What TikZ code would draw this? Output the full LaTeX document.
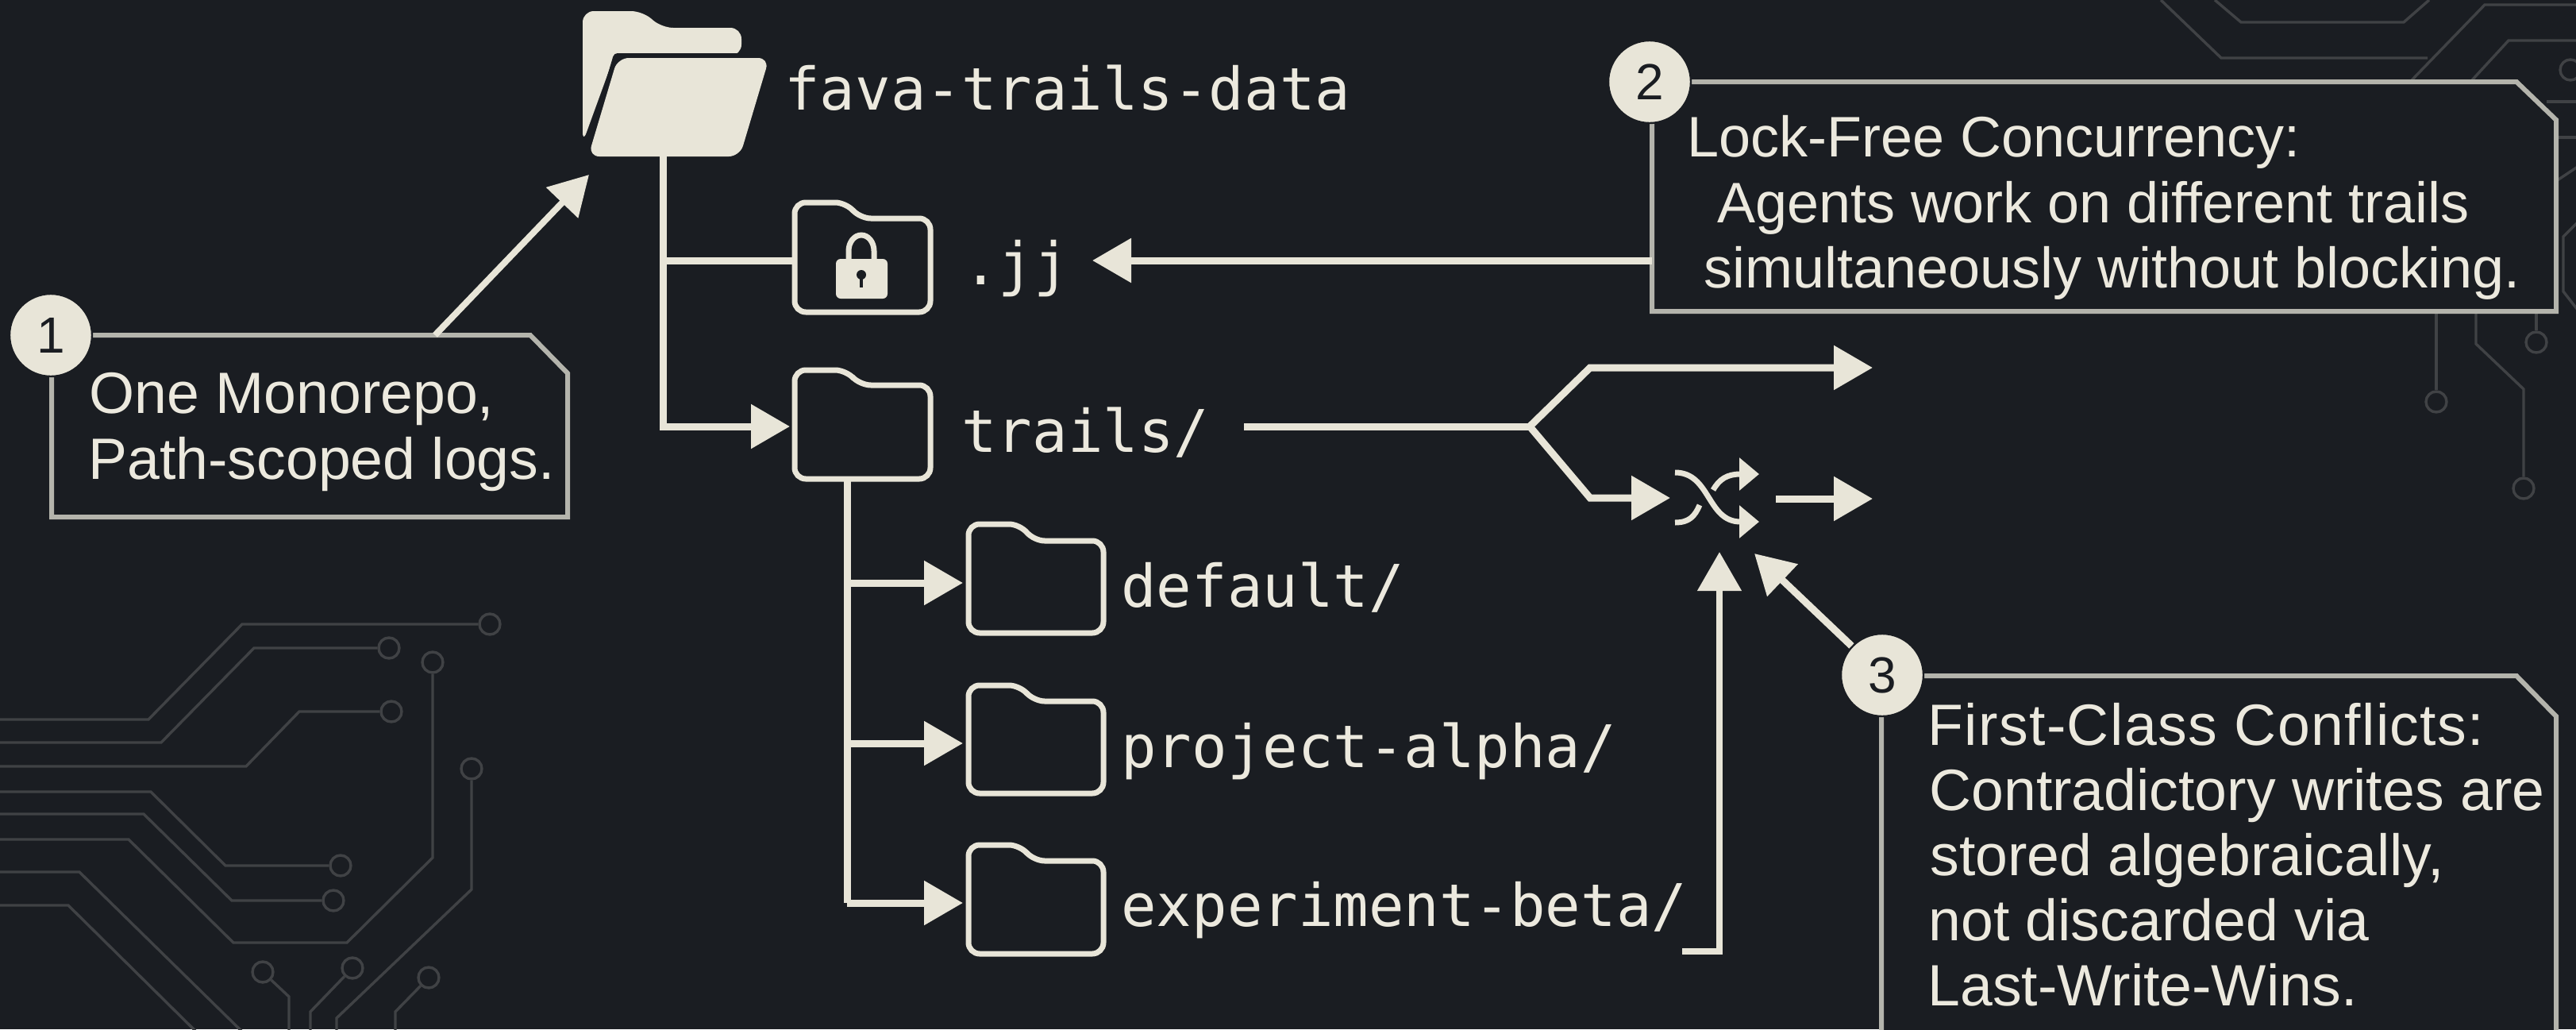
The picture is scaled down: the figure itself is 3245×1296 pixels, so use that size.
\documentclass[tikz,border=0pt]{standalone}
\usepackage{fontspec}
\setmainfont{Liberation Sans}
\setmonofont{DejaVu Sans Mono}
\usetikzlibrary{arrows.meta}
\definecolor{bgc}{HTML}{1A1D22}
\definecolor{cream}{HTML}{E8E5D8}
\definecolor{inkc}{HTML}{ECE9DE}
\definecolor{boxc}{HTML}{B4B4AC}
\definecolor{tracec}{HTML}{404245}
\tikzset{
  trace/.style={draw=tracec,line width=1.7pt,line join=miter},
  pad/.style={circle,draw=tracec,line width=1.7pt,minimum size=13pt,inner sep=0pt},
  callout/.style={draw=boxc,fill=bgc,line width=3pt,line join=miter},
  wire/.style={draw=cream,line width=4.5pt,line join=miter},
  flow/.style={wire,-{Triangle[length=24.5pt,width=27pt]}},
  tinyflow/.style={draw=cream,line width=3.5pt,-{Triangle[length=12.5pt,width=20pt]}},
  folderline/.style={draw=cream,line width=3.5pt,rounded corners=7pt,fill=bgc},
  badge/.style={circle,fill=cream,draw=bgc,line width=1.2pt,minimum size=52pt,inner sep=0pt,text=bgc,font=\fontsize{32}{36}\selectfont},
  mono/.style={anchor=base west,inner sep=0pt,text=inkc,font=\fontsize{37}{40}\selectfont\ttfamily},
  note/.style={anchor=base west,inner sep=0pt,text=inkc,font=\fontsize{36.7}{40}\selectfont},
  notetwo/.style={note,font=\fontsize{36}{40}\selectfont},
}
% #1 name, #2 top, #3 step, #4 bottom, #5 left, #6 right
\newcommand{\folderpic}[6]{%
  \draw[folderline] (#5,#4) -- (#5,#2) -- (#5+65,#2) -- (#5+82,#3) -- (#6,#3) -- (#6,#4) -- cycle;
  \coordinate (#1) at (#5,{0.5*(#3+#4)});
}
\begin{document}
\begin{tikzpicture}[x=0.5pt,y=-0.5pt]
\useasboundingbox (0,0) rectangle (3245,1296);
\fill[bgc] (0,0) rectangle (3245,1296);
\clip (0,0) rectangle (3245,1296);

% circuit traces, lower left
\node[pad] (p1) at (617,786) {};
\node[pad] (p2) at (490,816) {};
\node[pad] (p3) at (493,896) {};
\node[pad] (p4) at (429,1090) {};
\node[pad] (p5) at (420,1134) {};
\node[pad] (p6) at (545,834) {};
\node[pad] (p7) at (594,968) {};
\node[pad] (p8) at (331,1224) {};
\node[pad] (p9) at (444,1219) {};
\node[pad] (p10) at (540,1231) {};
\draw[trace] (0,906) -- (187,906) -- (305,786) -- (p1);
\draw[trace] (0,935) -- (203,935) -- (320,816) -- (p2);
\draw[trace] (0,965) -- (310,965) -- (377,896) -- (p3);
\draw[trace] (0,997) -- (190,997) -- (284,1090) -- (p4);
\draw[trace] (0,1025) -- (181,1025) -- (292,1134) -- (p5);
\draw[trace] (0,1057) -- (162,1057) -- (294,1187) -- (437,1187) -- (545,1080) -- (p6);
\draw[trace] (0,1098) -- (100,1098) -- (306,1300);
\draw[trace] (0,1140) -- (86,1140) -- (248,1300);
\draw[trace] (p7) -- (594,1120) -- (424,1282) -- (424,1300);
\draw[trace] (p8) -- (364,1255) -- (364,1300);
\draw[trace] (p9) -- (391,1274) -- (391,1300);
\draw[trace] (p10) -- (498,1274) -- (498,1300);

% circuit traces, upper right
\node[pad] (q1) at (3238,88) {};
\node[pad] (q2) at (3069,506) {};
\node[pad] (q3) at (3179,615) {};
\node[pad] (q4) at (3195,431) {};
\draw[trace] (2722,0) -- (2798,73) -- (3058,73);
\draw[trace] (2790,0) -- (2823,28) -- (3028,28) -- (3060,0);
\draw[trace] (3037,102) -- (3130,6) -- (3250,6);
\draw[trace] (3113,102) -- (3160,51) -- (3250,51);
\draw[trace] (3208,128) -- (3250,128);
\draw[trace] (3220,173) -- (3250,173);
\draw[trace] (3220,228) -- (3250,208);
\draw[trace] (3250,277) -- (3229,298) -- (3229,367) -- (3250,394);
\draw[trace] (3069,392) -- (q2);
\draw[trace] (3119,392) -- (3119,433) -- (3179,490) -- (q3);
\draw[trace] (3195,392) -- (q4);

% callout boxes
\draw[callout] (65,422) -- (668,422) -- (715,470) -- (715,651) -- (65,651) -- cycle;
\draw[callout] (2081,103) -- (3170,103) -- (3220,151) -- (3220,392) -- (2081,392) -- cycle;
\draw[callout] (2370,851) -- (3170,851) -- (3220,902) -- (3220,1320) -- (2370,1320) -- cycle;

% open root folder
\fill[cream,rounded corners=7pt] (734,180) -- (734,14) -- (809,14) -- (834,35) -- (934,35) -- (934,70) -- (774,70) -- cycle;
\path[fill=bgc,draw=bgc,line width=6pt,line join=round] (778,73) -- (969,73) -- (932,197) -- (741,197) -- cycle;
\path[fill=cream,rounded corners=7pt] (778,73) -- (969,73) -- (932,197) -- (741,197) -- cycle;
\coordinate (root) at (835,196);
\coordinate (rootin) at (742,220);

% tree connectors
\coordinate (jjport) at (1000,328);
\coordinate (trunkjj) at (835,328);
\coordinate (trunkend) at (835,537);
\coordinate (trailstip) at (995,537);
\draw[wire] (root) -- (trunkjj) -- (jjport);
\draw[flow] (trunkjj) -- (trunkend) -- (trailstip);

% folders
\folderpic{lockfolder}{255}{275}{393}{1001}{1172}
\folderpic{trailsfolder}{466}{485}{603}{1001}{1172}
\folderpic{defaultfolder}{660}{681}{797}{1220}{1390}
\folderpic{alphafolder}{863}{883}{999}{1220}{1390}
\folderpic{betafolder}{1064}{1084}{1201}{1220}{1390}

% lock
\draw[draw=cream,line width=3.5pt] (1069,330) -- (1069,316) arc[start angle=180,end angle=360,x radius=16,y radius=20] -- (1101,330);
\fill[cream,rounded corners=3pt] (1053,326) rectangle (1118,376);
\fill[bgc] (1085,346) circle[radius=6];
\draw[bgc,line width=1.6pt] (1085,346) -- (1085,362);

% second level tree
\coordinate (sub) at (1067,603);
\coordinate (subdefault) at (1067,734);
\coordinate (subalpha) at (1067,936);
\coordinate (subbeta) at (1067,1137);
\coordinate (tipdefault) at (1213,734);
\coordinate (tipalpha) at (1213,936);
\coordinate (tipbeta) at (1213,1137);
\draw[wire] (sub) -- (subbeta);
\draw[flow] (subdefault) -- (tipdefault);
\draw[flow] (subalpha) -- (tipalpha);
\draw[flow] (subbeta) -- (tipbeta);

% labels
\node[mono] (t0) at (988,138) {fava-trails-data};
\node[mono] (t1) at (1213,358) {.jj};
\node[mono] (t2) at (1211,569) {trails/};
\node[mono] (t3) at (1412,764) {default/};
\node[mono] (t4) at (1412,966) {project-alpha/};
\node[mono] (t5) at (1412,1166) {experiment-beta/};

% split
\coordinate (splitstart) at (1567,537);
\coordinate (split) at (1927,537);
\coordinate (upbend) at (2003,463);
\coordinate (uptip) at (2359,463);
\coordinate (downbend) at (2003,627);
\coordinate (downtip) at (2104,627);
\draw[wire] (splitstart) -- (split);
\draw[flow] (split) -- (upbend) -- (uptip);
\draw[flow] (split) -- (downbend) -- (downtip);

% shuffle icon
\coordinate (shufa) at (2110,595);
\coordinate (shufb) at (2216,657);
\coordinate (shufc) at (2110,658);
\coordinate (shufd) at (2141,636);
\coordinate (shufe) at (2158,617);
\coordinate (shuff) at (2216,597);
\draw[tinyflow] (shufa) .. controls (2155,595) and (2150,657) .. (shufb);
\draw[draw=cream,line width=3.5pt] (shufc) .. controls (2128,658) and (2135,650) .. (shufd);
\draw[tinyflow] (shufe) .. controls (2166,603) and (2176,597) .. (shuff);
\coordinate (mergeout) at (2237,628);
\coordinate (mergetip) at (2359,628);
\draw[flow] (mergeout) -- (mergetip);

% experiment-beta bracket
\coordinate (brk) at (2119,1198);
\coordinate (brkc) at (2166,1198);
\coordinate (brktip) at (2166,695);
\draw[flow,line width=4pt] (brk) -- (brkc) -- (brktip);

% callout notes
\node[note] (n1a) at (112,520) {One Monorepo,};
\node[note] (n1b) at (111,603) {Path-scoped logs.};
\node[notetwo] (n2a) at (2125,197) {Lock-Free Concurrency:};
\node[notetwo] (n2b) at (2163,280) {Agents work on different trails};
\node[notetwo] (n2c) at (2146,362) {simultaneously without blocking.};
\node[note] (n3a) at (2428,938) {\addfontfeatures{LetterSpace=1.9}First-Class Conflicts:};
\node[note] (n3b) at (2430,1020) {Contradictory writes are};
\node[note] (n3c) at (2431,1102) {stored algebraically,};
\node[note] (n3d) at (2429,1184) {not discarded via};
\node[note] (n3e) at (2428,1266) {Last-Write-Wins.};

% callout arrows and badges
\node[badge] (b1) at (64,422) {1};
\node[badge] (b2) at (2078,103) {2};
\node[badge] (b3) at (2371,850) {3};
\coordinate (c1out) at (548,422);
\draw[flow,line width=4pt] (c1out) -- (rootin);
\coordinate (c2out) at (2081,328);
\coordinate (c2tip) at (1376,328);
\draw[flow] (c2out) -- (c2tip);
\coordinate (c3tip) at (2210,697);
\draw[flow] (b3) -- (c3tip);
\end{tikzpicture}
\end{document}
